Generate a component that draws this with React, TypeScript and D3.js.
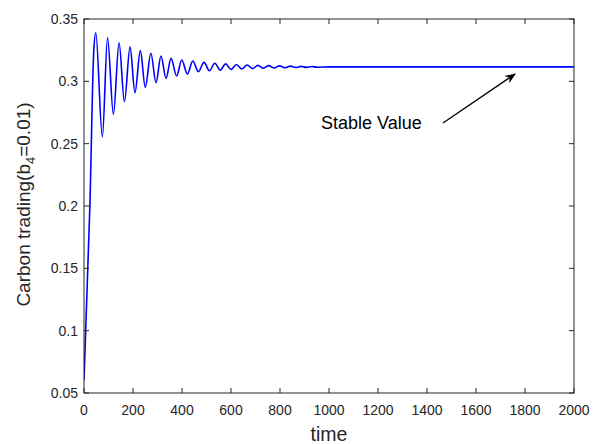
import React from "react";
import * as d3 from "d3";

const timePoints = [0, 24, 40, 48, 75, 96, 120, 143, 165, 188, 208, 230, 250, 273, 294, 314, 335, 355, 378, 399, 422, 444, 467, 490, 512, 534, 556, 578, 600, 622, 644, 666, 688, 710, 732, 754, 776, 798, 820, 842, 864, 886, 908, 930, 952, 1000, 2000];
const tradingValues = [0.06, 0.2, 0.325, 0.339, 0.2555, 0.335, 0.2735, 0.331, 0.2836, 0.3278, 0.2909, 0.3246, 0.2952, 0.3225, 0.2989, 0.3203, 0.3024, 0.3184, 0.3043, 0.3171, 0.3059, 0.3163, 0.3077, 0.3152, 0.3085, 0.3145, 0.309, 0.314, 0.3095, 0.3135, 0.3099, 0.3131, 0.3102, 0.3128, 0.3105, 0.3126, 0.3107, 0.3124, 0.3109, 0.3122, 0.3111, 0.312, 0.3112, 0.3119, 0.3113, 0.3116, 0.3116];
const xTicks = [0, 200, 400, 600, 800, 1000, 1200, 1400, 1600, 1800, 2000];
const yTicks = [0.05, 0.1, 0.15, 0.2, 0.25, 0.3, 0.35];

export default function App() {
  const W = 598, H = 444;
  const left = 84, right = 574, top = 19, bottom = 393;
  const x = d3.scaleLinear().domain([0, 2000]).range([left, right]);
  const y = d3.scaleLinear().domain([0.05, 0.35]).range([bottom, top]);
  const data = timePoints.map((t, i) => [t, tradingValues[i]] as [number, number]);
  const line = d3.line<[number, number]>().x(d => x(d[0])).y(d => y(d[1])).curve(d3.curveMonotoneX);
  const axisColor = "#262626";
  const font = "Liberation Sans, Arial, sans-serif";
  const tl = 5;
  return (
    <svg width={W} height={H} style={{ position: "absolute", left: 0, top: 0, background: "#fff" }}>
      <defs>
        <marker id="ah" viewBox="0 0 10 10" refX="9" refY="5" markerWidth="11" markerHeight="11" orient="auto" markerUnits="userSpaceOnUse">
          <path d="M0,1 L10,5 L0,9 L3,5 Z" fill="#000" />
        </marker>
        <clipPath id="pc"><rect x={left} y={top} width={right - left} height={bottom - top} /></clipPath>
      </defs>
      <path d={line(data) || ""} fill="none" stroke="#0000ff" strokeWidth={1.6} clipPath="url(#pc)" />
      <rect x={left} y={top} width={right - left} height={bottom - top} fill="none" stroke={axisColor} strokeWidth={1} />
      {xTicks.map(t => (
        <g key={"x" + t}>
          <line x1={x(t)} x2={x(t)} y1={bottom} y2={bottom - tl} stroke={axisColor} />
          <line x1={x(t)} x2={x(t)} y1={top} y2={top + tl} stroke={axisColor} />
          <text x={x(t)} y={bottom + 21.5} textAnchor="middle" fontSize={14} fontFamily={font} fill={axisColor}>{t}</text>
        </g>
      ))}
      {yTicks.map(v => (
        <g key={"y" + v}>
          <line x1={left} x2={left + tl} y1={y(v)} y2={y(v)} stroke={axisColor} />
          <line x1={right} x2={right - tl} y1={y(v)} y2={y(v)} stroke={axisColor} />
          <text x={left - 6} y={y(v) + 5} textAnchor="end" fontSize={14} fontFamily={font} fill={axisColor}>{v}</text>
        </g>
      ))}
      <text x={(left + right) / 2} y={441} textAnchor="middle" fontSize={19.5} fontFamily={font} fill={axisColor}>time</text>
      <text transform={`translate(30,204.5) rotate(-90)`} textAnchor="middle" fontSize={19} fontFamily={font} fill={axisColor}>
        Carbon trading(b<tspan dy={5} fontSize={13}>4</tspan><tspan dy={-5}>=0.01)</tspan>
      </text>
      <text x={321} y={129} fontSize={18} fontFamily={font} fill="#000">Stable Value</text>
      <line x1={443} y1={123} x2={515} y2={74} stroke="#000" strokeWidth={1.3} markerEnd="url(#ah)" />
    </svg>
  );
}
